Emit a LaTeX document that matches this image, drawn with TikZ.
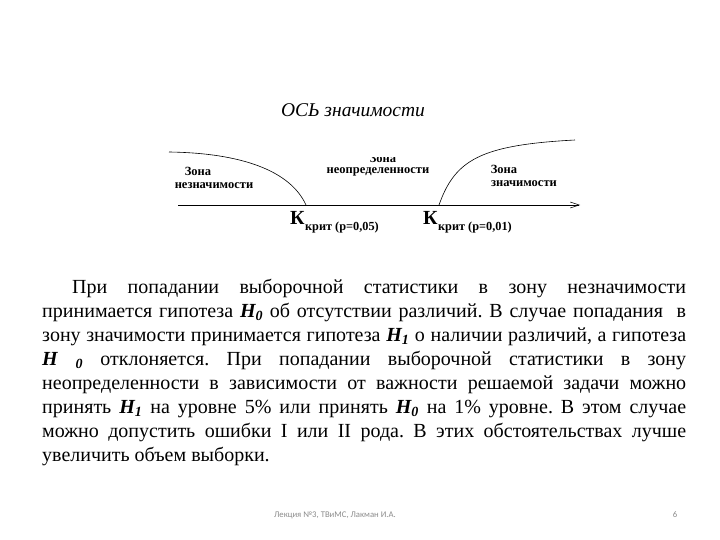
\documentclass[tikz,border=0pt]{standalone}
\usepackage{fontspec}
\setmainfont{Liberation Serif}
\newfontfamily\footfont{Carlito}
\usetikzlibrary{arrows.meta}
\frenchspacing
\tikzset{
  lbl/.style={inner sep=0pt, font=\fontsize{12.5}{12.5}\selectfont\bfseries},
  kbig/.style={inner sep=0pt, anchor=base west, font=\fontsize{20}{20}\selectfont\bfseries},
  ksub/.style={inner sep=0pt, anchor=base west, font=\fontsize{12.3}{12}\selectfont\bfseries},
  txt/.style={inner sep=0pt, anchor=base west, font=\fontsize{20}{24}\selectfont},
  curve/.style={line width=0.6pt},
  foot/.style={inner sep=0pt, text=black!45, font=\footfont\fontsize{8.7}{10}\selectfont}
}
\newcommand{\Hz}{\textbf{\textit{H\textsubscript{0}}}}
\newcommand{\Ho}{\textbf{\textit{H\textsubscript{1}}}}
\begin{document}
\begin{tikzpicture}[x=1pt,y=-1pt]
\useasboundingbox[fill=white] (0,0) rectangle (720,540);
% title
\node[inner sep=0pt, font=\fontsize{19.5}{20}\selectfont\itshape] (title) at (353,110) {ОСЬ значимости};
% axis
\coordinate (a0) at (178,205);
\coordinate (a1) at (580,205);
\draw[line width=0.5pt, -{Straight Barb[length=9pt,width=6pt]}] (a0) -- (a1);
% curves
\coordinate (c0) at (169,152);
\coordinate (k1) at (306,205);
\coordinate (k2) at (439,205);
\coordinate (c3) at (575,140);
\draw[curve] (c0) .. controls (240,153) and (290,170) .. (k1);
\draw[curve] (k2) .. controls (455,160) and (480,145) .. (c3);
% zone labels
\node[lbl] (z1a) at (198,171) {Зона};
\node[lbl] (z1b) at (214,186) {незначимости};
\begin{scope}
\clip (330,157.8) rectangle (440,200);
\node[lbl] (z2a) at (383,158) {Зона};
\end{scope}
\node[lbl] (z2b) at (378,172) {неопределенности};
\node[lbl] (z3a) at (504,169) {Зона};
\node[lbl] (z3b) at (524,184) {значимости};
% K labels
\node[kbig] (K1) at (290,225) {К};
\node[ksub] (K1s) at (K1.base east) [yshift=-5pt] {крит (p=0,05)};
\node[kbig] (K2) at (423,225) {К};
\node[ksub] (K2s) at (K2.base east) [yshift=-5pt] {крит (p=0,01)};
% paragraph
\node[txt] (l1) at (72,293) {\makebox[614pt][s]{При попадании выборочной статистики в зону незначимости}};
\node[txt] (l2) at (42,317) {\makebox[644pt][s]{принимается гипотеза \Hz\ об отсутствии различий. В случае попадания \ в}};
\node[txt] (l3) at (42,341) {\makebox[644pt][s]{зону значимости принимается гипотеза \Ho\ о наличии различий, а гипотеза}};
\node[txt] (l4) at (42,365) {\makebox[644pt][s]{\textbf{\textit{H}} \textbf{\textit{\textsubscript{0}}} отклоняется. При попадании выборочной статистики в зону}};
\node[txt] (l5) at (42,389) {\makebox[644pt][s]{неопределенности в зависимости от важности решаемой задачи можно}};
\node[txt] (l6) at (42,413) {\makebox[644pt][s]{принять \Ho\ на уровне 5\% или принять \Hz\ на 1\% уровне. В этом случае}};
\node[txt] (l7) at (42,437) {\makebox[644pt][s]{можно допустить ошибки I или II рода. В этих обстоятельствах лучше}};
\node[txt] (l8) at (42,461) {увеличить объем выборки.};
% footer
\node[foot] (f1) at (335,515) {Лекция №3, ТВиМС, Лакман И.А.};
\node[foot] (f2) at (675,515) {6};
\end{tikzpicture}
\end{document}
